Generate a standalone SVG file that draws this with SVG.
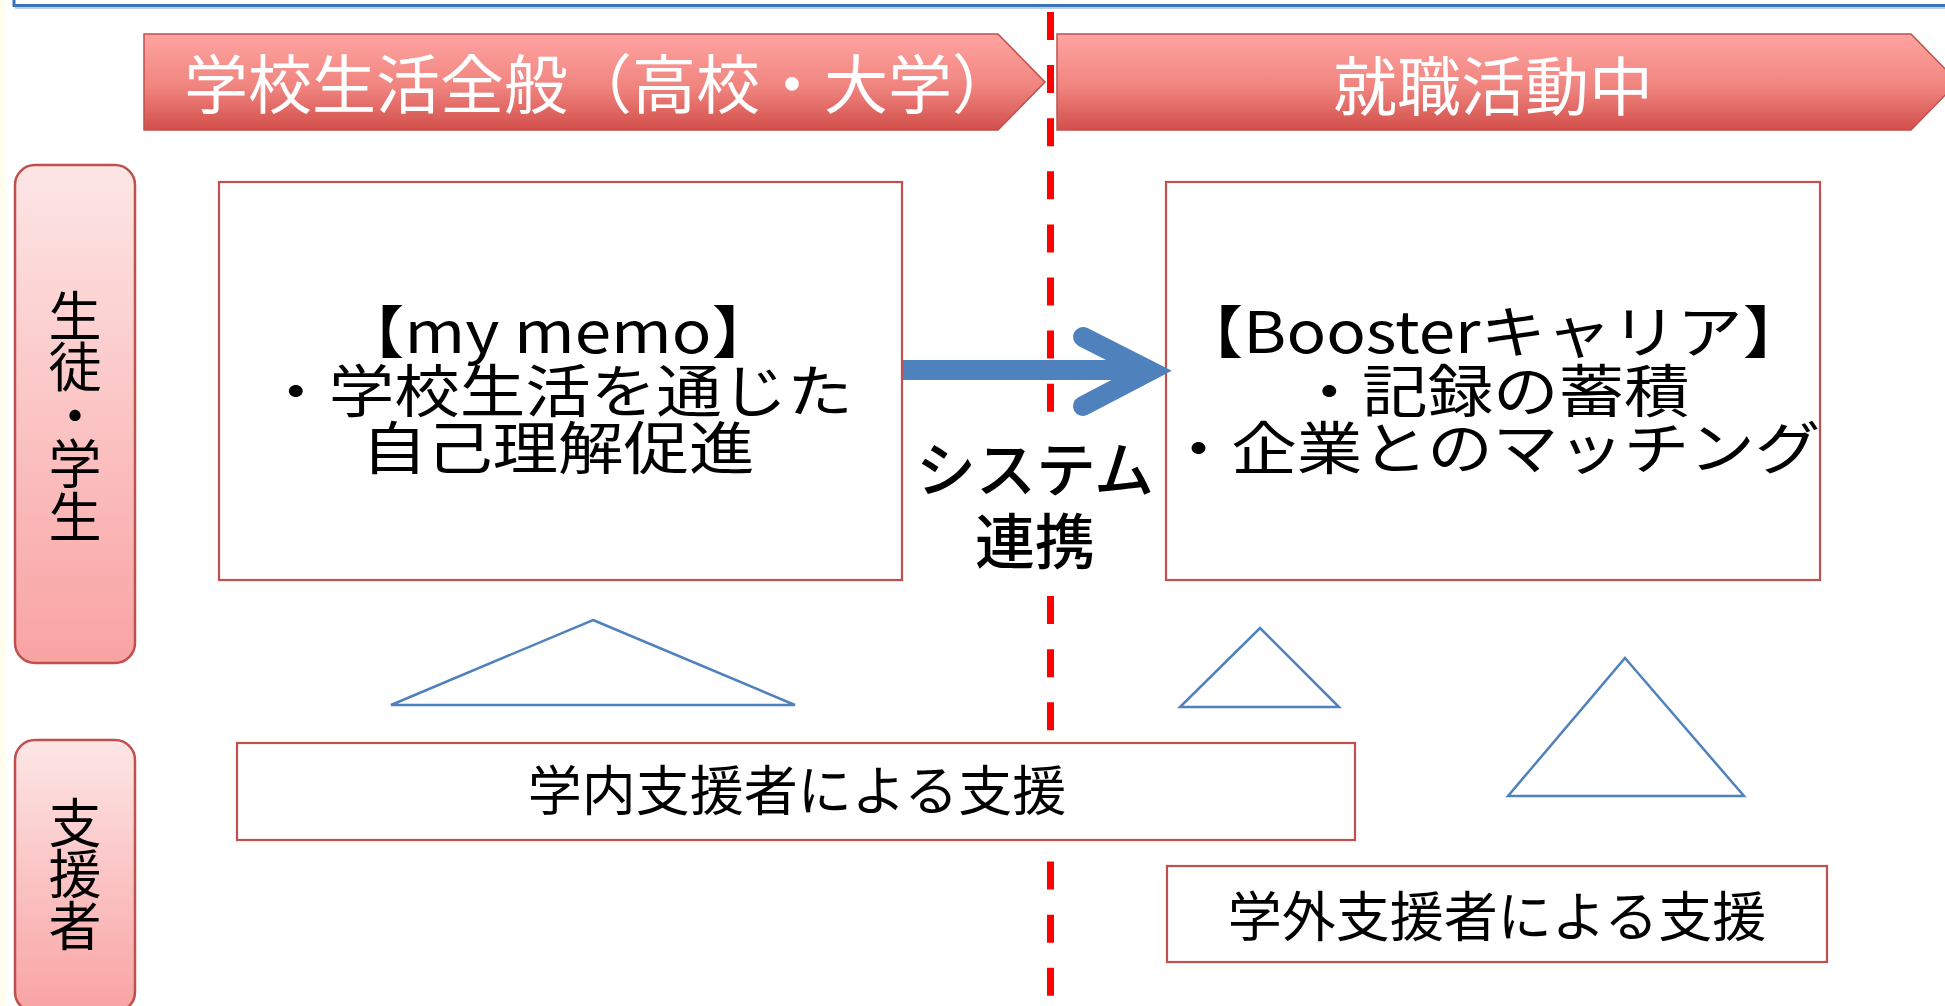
<svg xmlns="http://www.w3.org/2000/svg" width="1945" height="1006" viewBox="0 0 1945 1006">
<defs>
<linearGradient id="gBanner" x1="0" y1="0" x2="0" y2="1">
<stop offset="0" stop-color="#ffa4a1"/>
<stop offset="0.55" stop-color="#f0847f"/>
<stop offset="1" stop-color="#d24f4b"/>
</linearGradient>
<linearGradient id="gLabel" x1="0" y1="0" x2="0" y2="1">
<stop offset="0" stop-color="#fde6e6"/>
<stop offset="1" stop-color="#f9a3a3"/>
</linearGradient>
<style>
.t{font-family:"Noto Sans CJK JP","Noto Sans",sans-serif;fill:#000}
.bt{font-family:"Noto Sans CJK JP","Noto Sans",sans-serif;fill:#fff;font-size:64px;text-anchor:middle}
.banner{fill:url(#gBanner);stroke:#c0504d;stroke-width:1.5}
.label{fill:url(#gLabel);stroke:#c0504d;stroke-width:2.5}
.box{fill:#fff;stroke:#c0504d;stroke-width:2.2}
.tri{fill:none;stroke:#4f81bd;stroke-width:2.5;stroke-linejoin:miter}
.main{font-size:57px;text-anchor:middle}
.vert{font-size:53px;text-anchor:middle}
.sup{font-size:54px;text-anchor:middle}
</style>
</defs>
<rect x="0" y="0" width="1945" height="1006" fill="#fff"/>
<rect x="0" y="0" width="6" height="1006" fill="#fffdeb"/>
<g id="topframe">
<path d="M14,0 V5.5 H1945" fill="none" stroke="#3d72b8" stroke-width="3"/>
<line x1="15" y1="8" x2="1945" y2="8" stroke="#b9d0ec" stroke-width="2"/>
</g>

<g id="banner-school">
<polygon class="banner" points="144,34 998,34 1045,82 998,130 144,130"/>
<text class="bt" x="600" y="108">学校生活全般（高校・大学）</text>
</g>
<g id="banner-job">
<polygon class="banner" points="1057,34 1911,34 1958,82 1911,130 1057,130"/>
<text class="bt" x="1493" y="110">就職活動中</text>
</g>

<g id="label-student">
<rect class="label" x="15" y="165" width="120" height="498" rx="20" ry="20"/>
<text class="t vert"><tspan x="75" y="336">生</tspan><tspan x="75" y="387">徒</tspan><tspan x="75" y="436">・</tspan><tspan x="75" y="484">学</tspan><tspan x="75" y="537">生</tspan></text>
</g>
<g id="label-supporter">
<rect class="label" x="15" y="740" width="120" height="272" rx="20" ry="20"/>
<text class="t vert"><tspan x="75" y="843">支</tspan><tspan x="75" y="894">援</tspan><tspan x="75" y="946">者</tspan></text>
</g>

<g id="divider">
<line x1="1050.5" y1="12" x2="1050.5" y2="1006" stroke="#ff0000" stroke-width="7" stroke-dasharray="28 25.1"/>
</g>

<g id="box-mymemo">
<rect class="box" x="219" y="182" width="683" height="398"/>
<g transform="translate(558 0) scale(1.15 1)">
<text class="t main"><tspan x="0" y="353">【my memo】</tspan><tspan x="0" y="412">・学校生活を通じた</tspan><tspan x="0" y="469">自己理解促進</tspan></text>
</g>
</g>
<g id="box-booster">
<rect class="box" x="1166" y="182" width="654" height="398"/>
<g transform="translate(1493 0) scale(1.15 1)">
<text class="t main"><tspan x="0" y="353">【Boosterキャリア】</tspan><tspan x="0" y="412">・記録の蓄積</tspan><tspan x="0" y="469">・企業とのマッチング</tspan></text>
</g>
</g>

<g id="label-system">
<rect x="906" y="414" width="256" height="180" fill="#fff"/>
<text class="t" font-size="60" font-weight="500" text-anchor="middle"><tspan x="1035" y="492">システム</tspan><tspan x="1035" y="564">連携</tspan></text>
</g>

<g id="tri-left">
<polygon class="tri" points="593,620 795,705 391,705"/>
</g>
<g id="tri-mid">
<polygon class="tri" points="1260,628 1339,707 1180,707"/>
</g>
<g id="tri-right">
<polygon class="tri" points="1625,658 1744,796 1508,796"/>
</g>

<g id="box-internal">
<rect class="box" x="237" y="743" width="1118" height="97"/>
<text class="t sup" x="797" y="811">学内支援者による支援</text>
</g>
<g id="box-external">
<rect class="box" x="1167" y="866" width="660" height="96"/>
<text class="t sup" x="1497" y="937">学外支援者による支援</text>
</g>

<g id="connectors">
<line x1="903" y1="370" x2="1140" y2="370" stroke="#4f81bd" stroke-width="20"/>
<polyline points="1083,337 1150,371 1083,406" fill="none" stroke="#4f81bd" stroke-width="20" stroke-linecap="round" stroke-linejoin="miter"/>
</g>
</svg>
